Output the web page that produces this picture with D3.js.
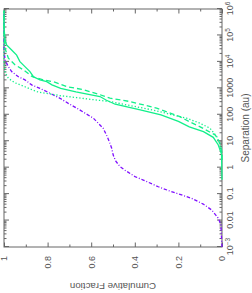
<!DOCTYPE html>
<html><head><meta charset="utf-8">
<script src="https://cdn.jsdelivr.net/npm/d3@7/dist/d3.min.js"></script>
<style>html,body{margin:0;padding:0;background:#fff;}svg{display:block;}</style>
</head><body>
<script>
// ---- data (separation in au, cumulative fraction) ----
const purpleSep  = [0.001,0.0068,0.0123,0.025,0.042,0.069,0.093,0.13,0.19,0.34,0.46,0.8,1.1,1.8,3.0,5.4,8.3,14,31,74,150,270,420,650,1000,1350,2100,2750,4300,6600,11700,28000,700000];
const purpleFrac = [0,0.005,0.017,0.047,0.086,0.139,0.185,0.239,0.292,0.361,0.399,0.445,0.468,0.488,0.499,0.506,0.514,0.525,0.545,0.59,0.651,0.705,0.743,0.789,0.835,0.873,0.904,0.934,0.965,0.98,0.995,1,1];

const solidSep  = [0.35,3.2,7.2,14,23,35,56,100,158,250,355,490,740,1000,1350,1780,2100,2750,4300,6600,10200,18000,28000,44000,68000,200000,900000];
const solidFrac = [0,0.002,0.017,0.04,0.085,0.15,0.2,0.28,0.38,0.49,0.53,0.56,0.67,0.74,0.78,0.804,0.835,0.865,0.881,0.904,0.927,0.942,0.965,0.988,0.995,1,1];

const dashedSep  = [2,4.1,8.3,17,35,55,85,178,316,427,575,890,1150,1780,2100,2750,5000,7760,13800,32000,100000,800000];
const dashedFrac = [0,0.001,0.009,0.03,0.10,0.15,0.193,0.30,0.422,0.514,0.56,0.636,0.71,0.774,0.82,0.87,0.911,0.95,0.98,0.995,1,1];

const dottedSep  = [2,4,7.2,15,31,48,74,105,150,316,372,447,525,617,708,870,1150,1620,2400,4000,10000,800000];
const dottedFrac = [0,0.001,0.009,0.024,0.055,0.101,0.162,0.239,0.315,0.514,0.59,0.667,0.74,0.789,0.84,0.87,0.904,0.95,0.98,0.995,1,1];

const sepTicks = [1e-3,0.01,0.1,1,10,100,1000,1e4,1e5,1e6];
const sepTickLabels = ["10^−3","0.01","0.1","1","10","100","1000","10^4","10^5","10^6"];
const fracTicks = [0,0.2,0.4,0.6,0.8,1];
const fracTickLabels = ["0","0.2","0.4","0.6","0.8","1"];
const fracMinor = [0.1,0.3,0.5,0.7,0.9];
const xTitle = "Separation (au)";
const yTitle = "Cumulative Fraction";

// ---- layout (chart drawn unrotated, then rotated -90deg) ----
const CW = 252, CH = 293;     // canvas
const W = CH, H = CW;         // unrotated chart size
const m = {left:46, right:9, top:4, bottom:30};
const font = "'Liberation Sans', Arial, Helvetica, sans-serif";
const axisCol = "#666", textCol = "#555";
const green = "#12f08a", purple = "#8010ff";

const svg = d3.select("body").append("svg").attr("width",CW).attr("height",CH);
const g = svg.append("g").attr("transform",`translate(0,${CH}) rotate(-90)`);

const x = d3.scaleLog().domain([1e-3,1e6]).range([m.left, W-m.right]);
const y = d3.scaleLinear().domain([0,1]).range([H-m.bottom, m.top]);

const minorSep = [];
for (let e=-3;e<6;e++) for (let k=2;k<10;k++) minorSep.push(k*Math.pow(10,e));

function styleAxis(sel){
  sel.select(".domain").remove();
  sel.selectAll(".tick line").attr("stroke",axisCol).attr("stroke-width",1);
  sel.selectAll("text").attr("fill",textCol).style("font-family",font).style("font-size","9px");
}

// frame
g.append("rect").attr("x",m.left).attr("y",m.top)
  .attr("width",W-m.left-m.right).attr("height",H-m.top-m.bottom)
  .attr("fill","none").attr("stroke",axisCol).attr("stroke-width",1);

// bottom axis (separation)
const bx = g.append("g").attr("transform",`translate(0,${H-m.bottom})`)
  .call(d3.axisBottom(x).tickValues(sepTicks).tickSize(-5).tickPadding(5).tickFormat(()=>""));
styleAxis(bx);
bx.selectAll(".tick text").each(function(d,i){
  const t = d3.select(this); const lab = sepTickLabels[i];
  if (lab.includes("^")){
    const [b,ex] = lab.split("^");
    t.append("tspan").text(b);
    t.append("tspan").attr("dy","-0.45em").style("font-size","6.5px").text(ex);
  } else t.text(lab);
});
g.append("g").attr("transform",`translate(0,${H-m.bottom})`)
  .call(d3.axisBottom(x).tickValues(minorSep).tickSize(-2.5).tickFormat(()=>"")).call(styleAxis);
// top axis
g.append("g").attr("transform",`translate(0,${m.top})`)
  .call(d3.axisTop(x).tickValues(sepTicks).tickSize(-5).tickFormat(()=>"")).call(styleAxis);
g.append("g").attr("transform",`translate(0,${m.top})`)
  .call(d3.axisTop(x).tickValues(minorSep).tickSize(-2.5).tickFormat(()=>"")).call(styleAxis);

// left axis (fraction)
const ly = g.append("g").attr("transform",`translate(${m.left},0)`)
  .call(d3.axisLeft(y).tickValues(fracTicks).tickSize(-4.5).tickPadding(9).tickFormat((d,i)=>fracTickLabels[i]));
styleAxis(ly);
g.append("g").attr("transform",`translate(${m.left},0)`)
  .call(d3.axisLeft(y).tickValues(fracMinor).tickSize(-2.5).tickFormat(()=>"")).call(styleAxis);
g.append("g").attr("transform",`translate(${W-m.right},0)`)
  .call(d3.axisRight(y).tickValues(fracTicks).tickSize(-4.5).tickFormat(()=>"")).call(styleAxis);
g.append("g").attr("transform",`translate(${W-m.right},0)`)
  .call(d3.axisRight(y).tickValues(fracMinor).tickSize(-2.5).tickFormat(()=>"")).call(styleAxis);

// titles
g.append("text").attr("x",(m.left+W-m.right)/2).attr("y",249)
  .attr("text-anchor","middle").attr("fill",textCol)
  .style("font-family",font).style("font-size","10px").text(xTitle);
g.append("text").attr("transform",`translate(10.5,${(m.top+H-m.bottom)/2}) rotate(-90)`)
  .attr("text-anchor","middle").attr("fill",textCol)
  .style("font-family",font).style("font-size","9.7px").text(yTitle);

// lines
const line = d3.line().x(d=>x(d[0])).y(d=>y(d[1]));
function draw(sep,frac,col,dash){
  g.append("path").datum(sep.map((s,i)=>[s,frac[i]]))
    .attr("d",line).attr("fill","none").attr("stroke",col)
    .attr("stroke-width",1.3).attr("stroke-dasharray",dash);
}
draw(purpleSep,purpleFrac,purple,"3.5,1.8,1,1.8");
draw(dottedSep,dottedFrac,green,"1.3,2");
draw(dashedSep,dashedFrac,green,"5,3");
draw(solidSep,solidFrac,green,null);
</script>
</body></html>
